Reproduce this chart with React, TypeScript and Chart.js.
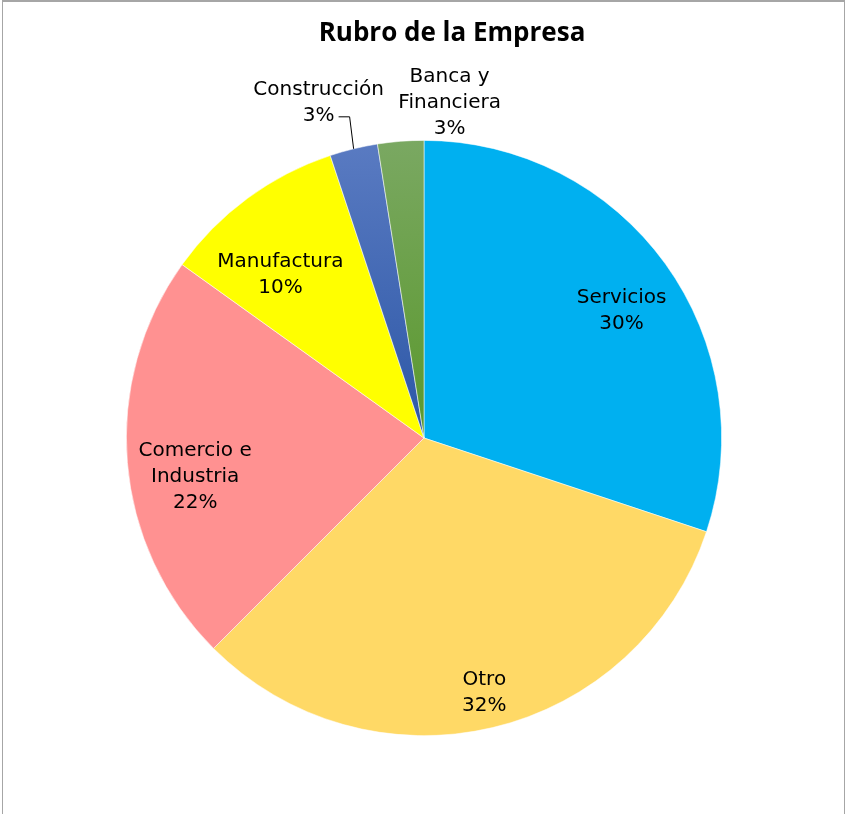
import React, { useEffect, useRef } from "react";
import { Chart, registerables } from "chart.js";

Chart.register(...registerables);

// ---- data ----
const chartTitle = "Rubro de la Empresa";
const categories = [
  "Servicios",
  "Otro",
  "Comercio e Industria",
  "Manufactura",
  "Construcción",
  "Banca y Financiera",
];
const labelLines = [
  ["Servicios"],
  ["Otro"],
  ["Comercio e", "Industria"],
  ["Manufactura"],
  ["Construcción"],
  ["Banca y", "Financiera"],
];
const shares = [30.1, 32.4, 22.4, 10.0, 2.6, 2.5];

// ---- styles ----
const solidColors = ["#00B0F0", "#FFD966", "#FF9191", "#FFFF00", "#4A6DB8", "#6B9F48"];
const gradientColors: (string[] | null)[] = [
  null,
  null,
  null,
  null,
  ["#5A7BC2", "#2C57A6"],
  ["#7AA862", "#5A982C"],
];
const LABEL_FONT = "'DejaVu Sans', sans-serif";
const LABEL_SIZE = 20;
const LINE_H = 26;
// placement of each label: inside (radial fraction + angle shift in degrees) or outside (offset from arc edge)
const placements: any[] = [
  { inside: true, r: 0.79, shift: 3 },
  { inside: true, r: 0.88, shift: 0 },
  { inside: true, r: 0.78, shift: -5 },
  { inside: true, r: 0.73, shift: -5 },
  { inside: false, dx: -35, dy: -46, leader: [[-4, -32], [-15, -32]] },
  { inside: false, dx: 49, dy: -38 },
];

const labelPlugin = {
  id: "sliceLabels",
  afterDatasetsDraw(chart: any) {
    const ctx = chart.ctx as CanvasRenderingContext2D;
    const meta = chart.getDatasetMeta(0);
    ctx.save();
    // title
    ctx.font = "bold 26px 'Open Sans', 'Liberation Sans', sans-serif";
    ctx.fillStyle = "#000000";
    ctx.textAlign = "center";
    ctx.textBaseline = "middle";
    ctx.fillText(chartTitle, 452, 34);

    ctx.font = `${LABEL_SIZE}px ${LABEL_FONT}`;
    meta.data.forEach((arc: any, i: number) => {
      const { x, y, startAngle, endAngle, outerRadius } = arc.getProps(
        ["x", "y", "startAngle", "endAngle", "outerRadius"],
        true
      );
      const mid = (startAngle + endAngle) / 2;
      const p = placements[i];
      const lines = [...labelLines[i], Math.round(shares[i]) + "%"];
      let cx: number, cy: number;
      if (p.inside) {
        const a = mid + (p.shift * Math.PI) / 180;
        cx = x + Math.cos(a) * outerRadius * p.r;
        cy = y + Math.sin(a) * outerRadius * p.r;
      } else {
        const ox = x + Math.cos(mid) * outerRadius;
        const oy = y + Math.sin(mid) * outerRadius;
        cx = ox + p.dx;
        cy = oy + p.dy;
        if (p.leader) {
          ctx.beginPath();
          ctx.strokeStyle = "#000000";
          ctx.lineWidth = 1;
          ctx.moveTo(ox, oy);
          p.leader.forEach((pt: number[]) => ctx.lineTo(ox + pt[0], oy + pt[1]));
          ctx.stroke();
        }
      }
      ctx.fillStyle = "#000000";
      lines.forEach((t, k) => {
        ctx.fillText(t, cx, cy + (k - (lines.length - 1) / 2) * LINE_H);
      });
    });
    ctx.restore();
  },
};

export default function App() {
  const ref = useRef<HTMLCanvasElement | null>(null);
  useEffect(() => {
    if (!ref.current) return;
    const chart = new Chart(ref.current, {
      type: "pie",
      data: {
        labels: categories,
        datasets: [
          {
            data: shares,
            backgroundColor: (c: any) => {
              const i = c.dataIndex;
              const g = gradientColors[i];
              const area = c.chart.chartArea;
              if (!g || !area) return solidColors[i];
              const grad = c.chart.ctx.createLinearGradient(
                0,
                area.top,
                0,
                (area.top + area.bottom) / 2
              );
              grad.addColorStop(0, g[0]);
              grad.addColorStop(1, g[1]);
              return grad;
            },
            borderColor: "rgba(255,255,255,0.7)",
            borderWidth: 0.75,
          },
        ],
      },
      options: {
        responsive: false,
        animation: false,
        events: [],
        layout: { padding: { left: 126, right: 123, top: 140, bottom: 78 } },
        plugins: {
          legend: { display: false },
          tooltip: { enabled: false },
          title: { display: false },
        },
      },
      plugins: [labelPlugin],
    });
    return () => chart.destroy();
  }, []);

  return (
    <div style={{ position: "absolute", left: 0, top: 0, width: 845, height: 814, background: "#fff" }}>
      <canvas ref={ref} width={845} height={814} style={{ position: "absolute", left: 0, top: 0 }} />
      <div
        style={{
          position: "absolute",
          left: 2,
          top: 0,
          width: 843,
          height: 814,
          boxSizing: "border-box",
          borderTop: "2px solid #A6A6A6",
          borderLeft: "1px solid #A6A6A6",
          borderRight: "1px solid #A6A6A6",
          pointerEvents: "none",
        }}
      />
    </div>
  );
}
